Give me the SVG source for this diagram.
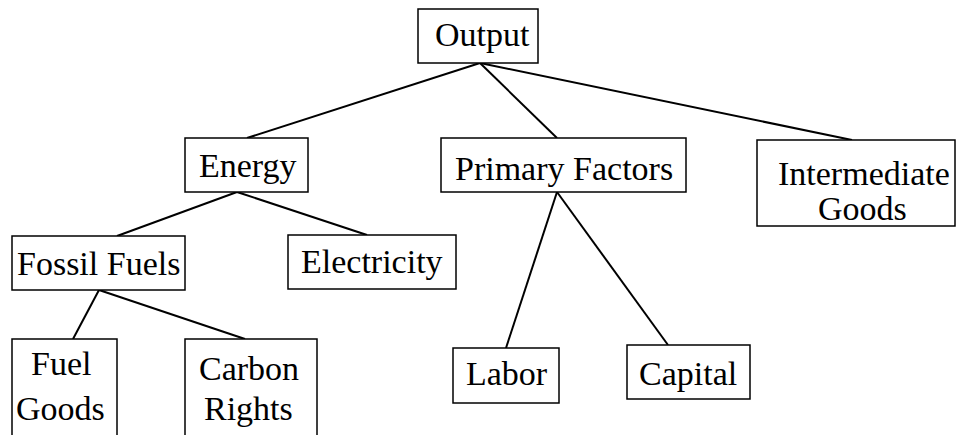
<svg xmlns="http://www.w3.org/2000/svg" width="957" height="435" viewBox="0 0 957 435">
<style>
.box{fill:#fff;stroke:#000;stroke-width:1.5}
.t{font-family:"Liberation Serif","Times New Roman",serif;font-size:34px;fill:#000}
.c line{stroke:#000;stroke-width:2}
</style>
<rect width="957" height="435" fill="#fff"/>
<g class="c" id="connectors">
<line x1="480" y1="63" x2="247" y2="138"/>
<line x1="480" y1="63" x2="557" y2="138"/>
<line x1="480" y1="63" x2="852" y2="140"/>
<line x1="237" y1="192" x2="117" y2="236"/>
<line x1="237" y1="192" x2="367" y2="235"/>
<line x1="99" y1="290" x2="73" y2="339"/>
<line x1="99" y1="290" x2="245" y2="339"/>
<line x1="557" y1="192" x2="506" y2="348"/>
<line x1="557" y1="192" x2="668" y2="345"/>
</g>
<g id="output"><rect class="box" x="418" y="9" width="120" height="54"/><text class="t" x="435" y="46">Output</text></g>
<g id="energy"><rect class="box" x="185" y="138" width="123" height="54"/><text class="t" x="199" y="177">Energy</text></g>
<g id="primary"><rect class="box" x="441" y="138" width="245" height="54"/><text class="t" x="455" y="180">Primary Factors</text></g>
<g id="intermediate"><rect class="box" x="757" y="140" width="198" height="86"/><text class="t" x="778" y="185">Intermediate</text><text class="t" x="818" y="220">Goods</text></g>
<g id="fossil"><rect class="box" x="12" y="236" width="173" height="54"/><text class="t" x="17" y="275">Fossil Fuels</text></g>
<g id="electricity"><rect class="box" x="288" y="235" width="168" height="54"/><text class="t" x="301" y="273">Electricity</text></g>
<g id="fuelgoods"><rect class="box" x="12" y="339" width="105" height="110"/><text class="t" x="31" y="375">Fuel</text><text class="t" x="16" y="420">Goods</text></g>
<g id="carbon"><rect class="box" x="185" y="339" width="132" height="110"/><text class="t" x="199" y="380">Carbon</text><text class="t" x="204" y="420">Rights</text></g>
<g id="labor"><rect class="box" x="453" y="348" width="106" height="55"/><text class="t" x="466" y="385">Labor</text></g>
<g id="capital"><rect class="box" x="627" y="345" width="123" height="54"/><text class="t" x="639" y="385">Capital</text></g>
</svg>
